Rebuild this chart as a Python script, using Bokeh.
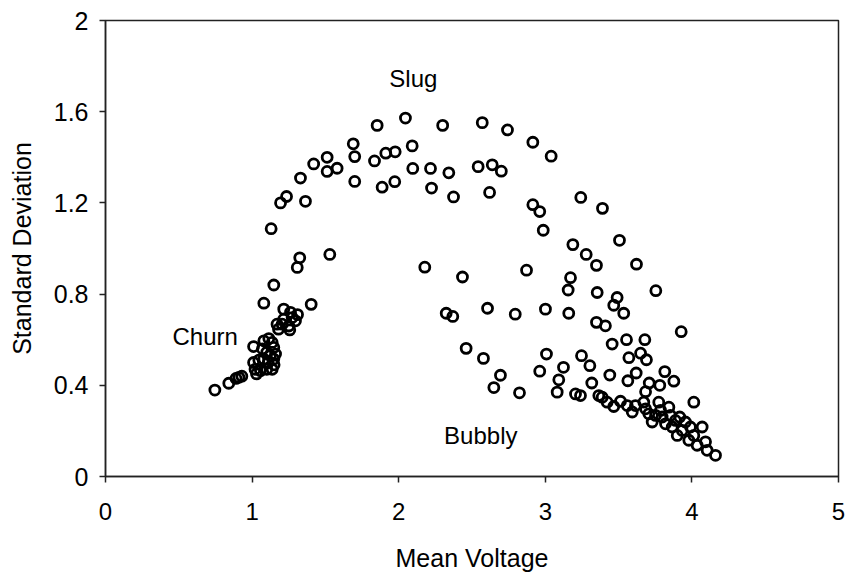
from bokeh.plotting import figure
from bokeh.models import Range1d, FixedTicker, ColumnDataSource, Label
from bokeh.embed import file_html
from bokeh.resources import INLINE

# Mean voltage (x) and standard deviation (y)
mean_voltage = [
    0.746, 0.841, 0.89, 0.91, 0.93, 1.01, 1.08, 1.148,
    1.01, 1.046, 1.08, 1.11, 1.15, 1.02, 1.057, 1.10, 1.137, 1.03,
    1.07, 1.10, 1.125, 1.16, 1.148, 1.08, 1.114, 1.137, 1.148,
    1.216, 1.262, 1.273, 1.296, 1.216, 1.17, 1.205, 1.25, 1.257, 1.18, 1.31,
    1.13, 1.194, 1.235, 1.364, 1.33, 1.42, 1.512, 1.512, 1.58,
    1.325, 1.53, 1.308, 1.403,
    1.69, 1.70, 1.70, 1.853, 1.835, 1.887, 1.912, 1.976, 1.973, 2.046,
    2.092, 2.096, 2.217, 2.224, 2.30, 2.342, 2.374, 2.57, 2.542, 2.638,
    2.70, 2.62, 2.742, 2.915, 3.04, 2.915, 2.962, 2.986, 3.188, 3.242,
    3.39, 3.506,
    2.178, 2.435, 2.872, 3.172, 3.156, 3.349, 3.279, 3.354, 3.622, 3.754,
    3.49, 3.467, 3.535, 2.324, 2.369, 2.606, 2.795, 3.001, 3.160, 3.349,
    3.41, 3.927, 3.554, 3.679, 3.456, 2.46, 2.578, 3.008, 3.247, 3.304,
    3.57, 3.65, 3.69, 2.694, 2.962, 3.124, 3.092, 3.317, 3.44, 3.62,
    3.815, 3.563, 3.709, 3.781, 3.877, 2.649, 2.824, 3.081, 3.206, 3.24,
    3.365, 3.684,
    3.388, 3.422, 3.467, 3.513, 3.559, 3.593, 3.615, 3.672, 3.684, 3.706,
    3.729, 3.752, 3.774, 3.786, 3.797, 3.82, 3.843, 3.854, 3.866, 3.888,
    3.90, 3.917, 3.934, 3.956, 3.979, 3.99, 4.013, 4.013, 4.036, 4.07,
    4.093, 4.104, 4.161,
]
std_deviation = [
    0.379, 0.409, 0.43, 0.435, 0.44, 0.57, 0.76, 0.84,
    0.50, 0.51, 0.515, 0.50, 0.49, 0.47, 0.464, 0.47, 0.47, 0.45,
    0.56, 0.545, 0.53, 0.537, 0.515, 0.595, 0.605, 0.588, 0.566,
    0.734, 0.72, 0.697, 0.683, 0.69, 0.668, 0.668, 0.66, 0.643, 0.646, 0.71,
    1.087, 1.20, 1.228, 1.207, 1.309, 1.371, 1.40, 1.338, 1.352,
    0.959, 0.974, 0.917, 0.755,
    1.459, 1.403, 1.294, 1.54, 1.384, 1.269, 1.418, 1.424, 1.293, 1.572,
    1.45, 1.351, 1.351, 1.265, 1.54, 1.332, 1.226, 1.552, 1.359, 1.367,
    1.339, 1.246, 1.52, 1.466, 1.405, 1.192, 1.162, 1.08, 1.017, 1.224,
    1.176, 1.036,
    0.918, 0.875, 0.905, 0.872, 0.818, 0.926, 0.974, 0.807, 0.931, 0.815,
    0.785, 0.751, 0.716, 0.716, 0.702, 0.738, 0.712, 0.734, 0.716, 0.676,
    0.661, 0.635, 0.60, 0.60, 0.581, 0.562, 0.518, 0.537, 0.53, 0.486,
    0.521, 0.541, 0.512, 0.444, 0.462, 0.479, 0.424, 0.41, 0.445, 0.454,
    0.46, 0.42, 0.41, 0.40, 0.418, 0.39, 0.367, 0.37, 0.362, 0.355,
    0.355, 0.372,
    0.348, 0.326, 0.307, 0.33, 0.311, 0.283, 0.311, 0.326, 0.297, 0.275,
    0.239, 0.268, 0.326, 0.29, 0.261, 0.231, 0.304, 0.268, 0.217, 0.246,
    0.18, 0.261, 0.202, 0.239, 0.159, 0.217, 0.326, 0.18, 0.137, 0.217,
    0.152, 0.115, 0.093,
]

x_ticks = [0, 1, 2, 3, 4, 5]
y_ticks = [0, 0.4, 0.8, 1.2, 1.6, 2]
y_tick_labels = {0: "0", 0.4: "0.4", 0.8: "0.8", 1.2: "1.2", 1.6: "1.6", 2: "2"}

regime_names = ["Slug", "Churn", "Bubbly"]
regime_x = [2.10, 0.68, 2.56]
regime_y = [1.745, 0.615, 0.18]

FONT = "Liberation Sans"

p = figure(width=849, height=574, output_backend="svg", toolbar_location=None,
           x_range=Range1d(0, 5), y_range=Range1d(0, 2),
           min_border_left=105, min_border_right=11,
           min_border_top=20, min_border_bottom=96)
p.background_fill_color = "white"
p.border_fill_color = "white"
p.outline_line_color = "#222222"
p.outline_line_width = 1.5
p.xgrid.visible = False
p.ygrid.visible = False

src = ColumnDataSource(dict(x=mean_voltage, y=std_deviation))
p.scatter("x", "y", source=src, marker="circle", size=10,
          fill_color=None, line_color="black", line_width=2.8)

for ax in (p.xaxis, p.yaxis):
    ax.axis_line_color = "#222222"
    ax.axis_line_width = 1.5
    ax.major_tick_line_color = "#222222"
    ax.major_tick_line_width = 1.5
    ax.major_tick_in = 0
    ax.major_tick_out = 6
    ax.minor_tick_line_color = None
    ax.major_label_text_font = FONT
    ax.major_label_text_color = "black"
    ax.axis_label_text_font = FONT
    ax.axis_label_text_font_style = "normal"
    ax.axis_label_text_color = "black"

p.xaxis.major_label_text_font_size = "24px"
p.yaxis.major_label_text_font_size = "25px"
p.xaxis.axis_label_text_font_size = "25px"
p.yaxis.axis_label_text_font_size = "25px"

p.xaxis.ticker = FixedTicker(ticks=x_ticks)
p.yaxis.ticker = FixedTicker(ticks=y_ticks)
p.yaxis.major_label_overrides = y_tick_labels
p.xaxis.axis_label = "Mean Voltage"
p.yaxis.axis_label = "Standard Deviation"
p.xaxis.major_label_standoff = 20
p.xaxis.axis_label_standoff = 21
p.yaxis.major_label_standoff = 11
p.yaxis.axis_label_standoff = 15

for name, lx, ly in zip(regime_names, regime_x, regime_y):
    p.add_layout(Label(x=lx, y=ly, text=name, text_align="center",
                       text_baseline="middle", text_font=FONT,
                       text_font_size="24px", text_color="black"))

open("out.html", "w").write(file_html(p, INLINE))
